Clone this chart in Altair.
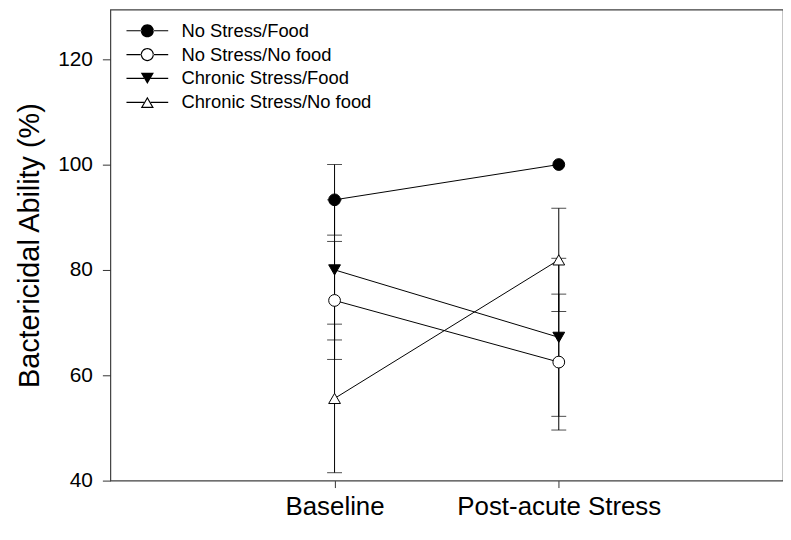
import altair as alt
import pandas as pd

# ---- data ----
time_labels = ["Baseline", "Post-acute Stress"]
time_pos = [1, 2]
series = ["No Stress/Food", "No Stress/No food", "Chronic Stress/Food", "Chronic Stress/No food"]
means = {
    "No Stress/Food": [93.3, 100.0],
    "No Stress/No food": [74.2, 62.5],
    "Chronic Stress/Food": [80.0, 67.2],
    "Chronic Stress/No food": [55.6, 81.9],
}
errors = {
    "No Stress/Food": [6.7, 0.0],
    "No Stress/No food": [11.2, 12.9],
    "Chronic Stress/Food": [13.3, 15.0],
    "Chronic Stress/No food": [14.1, 9.8],
}
y_ticks = [40, 60, 80, 100, 120]

rows = []
for s in series:
    for i, t in enumerate(time_pos):
        m = means[s][i]
        e = errors[s][i]
        rows.append({"series": s, "time": t, "mean": m, "err": e,
                     "lo": m - e, "hi": m + e})
df = pd.DataFrame(rows)

FONT = "Liberation Sans"
shapes_plot = ["circle", "circle", "triangle-down", "triangle-up"]
fills = ["black", "white", "black", "white"]

# legend symbols (all filled black): marker plus a line segment on each side
L = 3.5
t = 0.1
def bars(g):
    return f"M-{L},-{t}H-{g}V{t}H-{L}Z M{g},-{t}H{L}V{t}H{g}Z "
circ_out = "M-1.1,0A1.1,1.1 0 1,0 1.1,0A1.1,1.1 0 1,0 -1.1,0Z "
circ_in = "M-0.9,0A0.9,0.9 0 1,1 0.9,0A0.9,0.9 0 1,1 -0.9,0Z"
tri_dn = "M0,0.95L-1.1,-0.95L1.1,-0.95Z"
tri_up_out = "M0,-0.95L-1.1,0.95L1.1,0.95Z "
tri_up_in = "M0,-0.551L0.753,0.75L-0.753,0.75Z"
leg_paths = [
    bars(1.0) + circ_out,
    bars(1.0) + circ_out + circ_in,
    bars(0.55) + tri_dn,
    bars(0.55) + tri_up_out + tri_up_in,
]

label_expr = f"datum.value == {time_pos[0]} ? '{time_labels[0]}' : '{time_labels[1]}'"

x_enc = alt.X("time:Q", scale=alt.Scale(domain=[0, 3], nice=False, zero=False),
              axis=alt.Axis(values=time_pos, labelExpr=label_expr, title=None,
                            domain=False, grid=False, ticks=True, tickSize=7,
                            tickWidth=1, tickColor="#333333",
                            labelFontSize=26, labelFont=FONT, labelColor="black",
                            labelPadding=6, labelLimit=500))
y_scale = alt.Scale(domain=[40, 129.4], nice=False, zero=False)
y_axis = alt.Axis(values=y_ticks, title="Bactericidal Ability (%)", domain=False,
                  grid=False, ticks=True, tickSize=8, tickWidth=1, tickColor="#333333",
                  labelFontSize=21, labelFont=FONT, labelColor="black", labelPadding=10,
                  titleFontSize=29, titleFont=FONT, titleFontWeight="normal",
                  titleColor="black", titlePadding=13)

base = alt.Chart(df)

err_df = base.transform_filter("datum.err > 0")
rules = err_df.mark_rule(color="black", strokeWidth=1).encode(
    x=x_enc, y=alt.Y("lo:Q", scale=y_scale, axis=y_axis), y2="hi:Q")
caps_lo = err_df.mark_tick(color="black", orient="horizontal", size=15, thickness=1).encode(
    x="time:Q", y="lo:Q")
caps_hi = err_df.mark_tick(color="black", orient="horizontal", size=15, thickness=1).encode(
    x="time:Q", y="hi:Q")

lines = base.mark_line(color="black", strokeWidth=1).encode(
    x="time:Q", y="mean:Q", detail="series:N")

points = base.mark_point(filled=True, stroke="black", strokeWidth=1, size=140, opacity=1).encode(
    x="time:Q", y="mean:Q",
    shape=alt.Shape("series:N", scale=alt.Scale(domain=series, range=shapes_plot), legend=None),
    fill=alt.Fill("series:N", scale=alt.Scale(domain=series, range=fills), legend=None),
)

legend_layer = base.transform_filter("false").mark_point(
    filled=True, color="black", opacity=1).encode(
    x="time:Q", y="mean:Q",
    shape=alt.Shape("series:N", scale=alt.Scale(domain=series, range=leg_paths),
                    legend=alt.Legend(title=None, orient="none", legendX=28, legendY=12,
                                      symbolSize=144, symbolStrokeWidth=0,
                                      symbolFillColor="black", symbolOpacity=1,
                                      labelFontSize=18.5, labelFont=FONT,
                                      labelColor="black", labelOffset=25,
                                      rowPadding=5, padding=0, labelLimit=400)),
)

chart = alt.layer(rules, caps_lo, caps_hi, lines, points, legend_layer).resolve_scale(
    shape="independent", fill="independent"
).properties(
    width=677, height=474,
    padding={"left": 103, "top": 0, "right": 0, "bottom": 40},
    autosize=alt.AutoSizeParams(type="none"),
    background="white",
).configure_view(stroke="#404040", strokeWidth=1.2)

chart.save("out.html", embed_options={"renderer": "svg", "actions": False})
